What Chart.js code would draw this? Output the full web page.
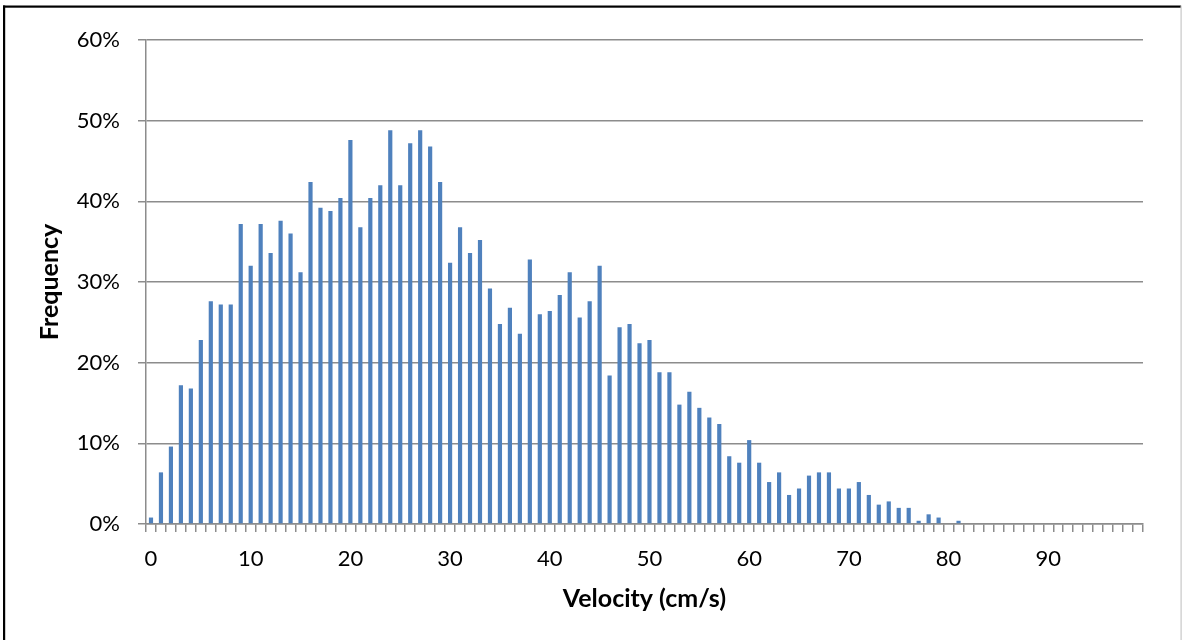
<!DOCTYPE html>
<html>
<head>
<meta charset="utf-8">
<script src="https://cdn.jsdelivr.net/npm/chart.js@4/dist/chart.umd.min.js"></script>
<style>
html,body{margin:0;padding:0;background:#fff;}
#wrap{position:relative;width:1182px;height:640px;}
</style>
</head>
<body>
<div id="wrap"><canvas id="c" width="1182" height="640"></canvas></div>
<script>
// Velocity categories (cm/s)
const categories = Array.from({length: 100}, (_, i) => String(i));
// Frequency (%) for each velocity bin
const frequency = [
  0.8, 6.4, 9.6, 17.2, 16.8, 22.8, 27.6, 27.2, 27.2, 37.2,
  32.0, 37.2, 33.6, 37.6, 36.0, 31.2, 42.4, 39.2, 38.8, 40.4,
  47.6, 36.8, 40.4, 42.0, 48.8, 42.0, 47.2, 48.8, 46.8, 42.4,
  32.4, 36.8, 33.6, 35.2, 29.2, 24.8, 26.8, 23.6, 32.8, 26.0,
  26.4, 28.4, 31.2, 25.6, 27.6, 32.0, 18.4, 24.4, 24.8, 22.4,
  22.8, 18.8, 18.8, 14.8, 16.4, 14.4, 13.2, 12.4, 8.4, 7.6,
  10.4, 7.6, 5.2, 6.4, 3.6, 4.4, 6.0, 6.4, 6.4, 4.4,
  4.4, 5.2, 3.6, 2.4, 2.8, 2.0, 2.0, 0.4, 1.2, 0.8,
  0.0, 0.4, 0, 0, 0, 0, 0, 0, 0, 0,
  0, 0, 0, 0, 0, 0, 0, 0, 0, 0
];
const yTicks = [0, 10, 20, 30, 40, 50, 60];
const xTitle = 'Velocity (cm/s)';
const yTitle = 'Frequency';

const FONT = 'Lato, "Open Sans", sans-serif';
const GRID = '#8c8c8c';

const frame = {
  id: 'frame',
  afterDraw(chart) {
    const ctx = chart.ctx;
    ctx.save();
    ctx.fillStyle = '#000';
    ctx.fillRect(3, 5.5, 1178, 2.2);
    ctx.fillRect(3, 5.5, 2.2, 640);
    ctx.fillStyle = '#c8c8c8';
    ctx.fillRect(1180.5, 5.5, 1.2, 640);
    ctx.restore();
  }
};

new Chart(document.getElementById('c'), {
  type: 'bar',
  data: {
    labels: categories,
    datasets: [{
      data: frequency,
      backgroundColor: '#4f81bd',
      borderWidth: 0,
      barPercentage: 0.42,
      categoryPercentage: 1.0
    }]
  },
  options: {
    responsive: false,
    animation: false,
    events: [],
    layout: { padding: { top: 40, right: 39, bottom: 0, left: 0 } },
    plugins: { legend: { display: false }, tooltip: { enabled: false } },
    scales: {
      x: {
        grid: {
          display: true,
          drawOnChartArea: false,
          drawTicks: true,
          tickLength: 8,
          color: GRID,
          lineWidth: 1.5,
          offset: true
        },
        border: { display: true, color: GRID, width: 1.5 },
        ticks: {
          autoSkip: false,
          maxRotation: 0,
          minRotation: 0,
          padding: 14,
          color: '#000',
          font: { family: FONT, size: 22 },
          callback: function(v, i) { return i % 10 === 0 ? categories[i] : ''; }
        },
        title: {
          display: true,
          text: xTitle,
          color: '#000',
          font: { family: FONT, size: 25, weight: 'bold' },
          padding: { top: 0, bottom: 26 }
        },
        afterFit(s) { s.height = 116; }
      },
      y: {
        min: 0,
        max: 60,
        afterBuildTicks(s) { s.ticks = yTicks.map(v => ({ value: v })); },
        grid: {
          color: GRID,
          lineWidth: 1.5,
          drawTicks: true,
          tickLength: 8
        },
        border: { display: true, color: GRID, width: 1.5 },
        ticks: {
          padding: 18,
          color: '#000',
          font: { family: FONT, size: 22 },
          callback: v => v + '%'
        },
        title: {
          display: true,
          text: yTitle,
          color: '#000',
          font: { family: FONT, size: 25, weight: 'bold' },
          padding: { top: 35, bottom: 0 }
        },
        afterFit(s) { s.width = 146; }
      }
    }
  },
  plugins: [frame]
});
</script>
</body>
</html>
